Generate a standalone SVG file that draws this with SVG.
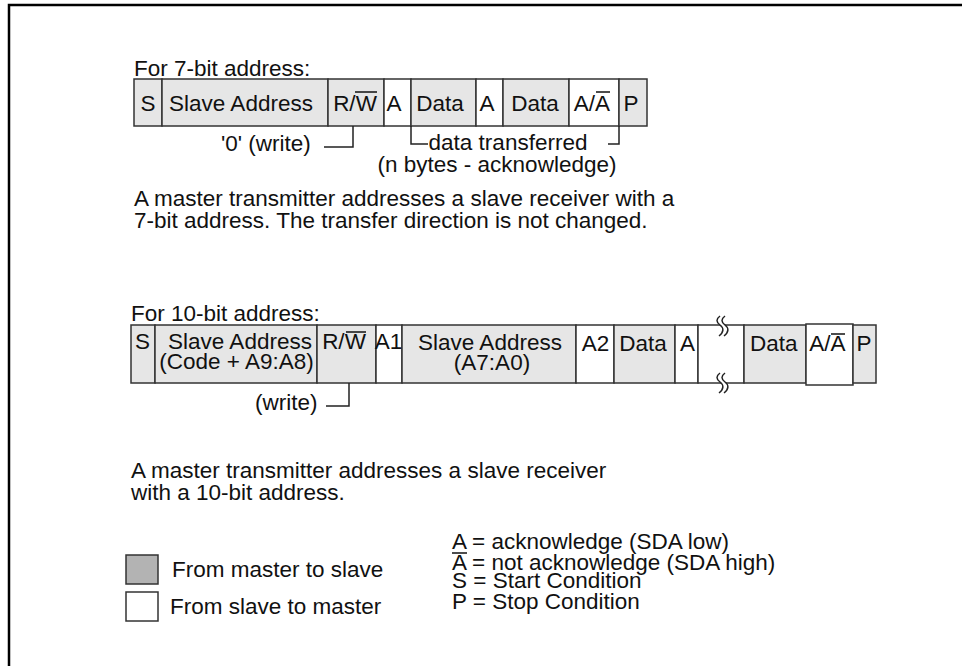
<svg xmlns="http://www.w3.org/2000/svg" width="962" height="666" viewBox="0 0 962 666">
<style>
text{font-family:"Liberation Sans",Arial,sans-serif;font-size:22.5px;fill:#111}
.m{text-anchor:middle}
.g{fill:#e6e6e6;stroke:#333;stroke-width:1.5}
.w{fill:#fff;stroke:#333;stroke-width:1.5}
.ln{fill:none;stroke:#222;stroke-width:1.5}
.ov{stroke:#111;stroke-width:1.5}
</style>
<rect x="9" y="5" width="1000" height="1000" fill="#fff" stroke="#000" stroke-width="2.5"/>

<text x="134" y="76">For 7-bit address:</text>
<g id="row7">
  <rect class="g" x="134" y="79" width="28" height="47"/>
  <rect class="g" x="162" y="79" width="166" height="47"/>
  <rect class="g" x="328" y="79" width="56" height="47"/>
  <rect class="w" x="384" y="79" width="27" height="47"/>
  <rect class="g" x="411" y="79" width="65" height="47"/>
  <rect class="w" x="476" y="79" width="27" height="47"/>
  <rect class="g" x="503" y="79" width="66" height="47"/>
  <rect class="w" x="569" y="79" width="50" height="47"/>
  <rect class="g" x="619" y="79" width="28" height="47"/>
  <text class="m" x="148" y="111">S</text>
  <text class="m" x="241" y="111">Slave Address</text>
  <text class="m" x="355" y="111">R/W</text>
  <line class="ov" x1="355" y1="92" x2="377" y2="92"/>
  <text class="m" x="394" y="111">A</text>
  <text class="m" x="440" y="111">Data</text>
  <text class="m" x="487" y="111">A</text>
  <text class="m" x="535" y="111">Data</text>
  <text class="m" x="592" y="111">A/A</text>
  <line class="ov" x1="596" y1="92" x2="610" y2="92"/>
  <text class="m" x="631" y="111">P</text>
</g>
<g id="connectors7">
  <polyline class="ln" points="324,147 353,147 353,126"/>
  <polyline class="ln" points="411,126 411,144 428,144"/>
  <polyline class="ln" points="608,144 619,144 619,126"/>
</g>
<text x="221" y="151">'0' (write)</text>
<text class="m" x="508" y="150">data transferred</text>
<text class="m" x="497" y="172">(n bytes - acknowledge)</text>
<text x="134" y="206">A master transmitter addresses a slave receiver with a</text>
<text x="134" y="228">7-bit address. The transfer direction is not changed.</text>

<text x="131" y="321">For 10-bit address:</text>
<g id="row10">
  <rect class="g" x="131" y="325" width="24" height="58"/>
  <rect class="g" x="155" y="325" width="162" height="58"/>
  <rect class="g" x="317" y="325" width="59" height="58"/>
  <rect class="w" x="376" y="325" width="26" height="58"/>
  <rect class="g" x="402" y="325" width="174" height="58"/>
  <rect class="w" x="576" y="325" width="38" height="58"/>
  <rect class="g" x="614" y="325" width="61" height="58"/>
  <rect class="w" x="675" y="325" width="23" height="58"/>
  <rect class="w" x="698" y="325" width="46" height="58"/>
  <rect class="g" x="744" y="325" width="62" height="58"/>
  <rect class="w" x="806" y="324" width="47" height="61"/>
  <rect class="g" x="853" y="325" width="23" height="58"/>
  <text class="m" x="142.5" y="349">S</text>
  <text class="m" x="240" y="349">Slave Address</text>
  <text class="m" x="236.5" y="369">(Code + A9:A8)</text>
  <text class="m" x="344" y="349">R/W</text>
  <line class="ov" x1="346" y1="332" x2="366" y2="332"/>
  <text class="m" x="388.5" y="349">A1</text>
  <text class="m" x="490" y="350">Slave Address</text>
  <text class="m" x="492" y="370">(A7:A0)</text>
  <text class="m" x="595.5" y="351">A2</text>
  <text class="m" x="643" y="351">Data</text>
  <text class="m" x="687.5" y="351">A</text>
  <text class="m" x="773.7" y="351">Data</text>
  <text class="m" x="827.3" y="351">A/A</text>
  <line class="ov" x1="831" y1="334" x2="845" y2="334"/>
  <text class="m" x="864" y="351">P</text>
  <path d="M720,316 c-4,3 -4,6 0,9 c4,3 4,7 -1,11 l5,0 c5,-4 5,-8 1,-11 c-4,-3 -4,-6 0,-9 z" fill="#fff" stroke="none"/>
  <path d="M720,316 c-4,3 -4,6 0,9 c4,3 4,7 -1,11 M725,316 c-4,3 -4,6 0,9 c4,3 4,7 -1,11" class="ln"/>
  <path d="M720,373 c-4,3 -4,6 0,9 c4,3 4,7 -1,11 l5,0 c5,-4 5,-8 1,-11 c-4,-3 -4,-6 0,-9 z" fill="#fff" stroke="none"/>
  <path d="M720,373 c-4,3 -4,6 0,9 c4,3 4,7 -1,11 M725,373 c-4,3 -4,6 0,9 c4,3 4,7 -1,11" class="ln"/>
</g>
<g id="connectors10">
  <polyline class="ln" points="326,406 349,406 349,383"/>
</g>
<text x="255" y="410">(write)</text>
<text x="131" y="478">A master transmitter addresses a slave receiver</text>
<text x="131" y="500">with a 10-bit address.</text>

<g id="legend">
  <rect x="126" y="555" width="32" height="29" fill="#b3b3b3" stroke="#333" stroke-width="1.5"/>
  <rect x="126" y="592" width="32" height="29" fill="#fff" stroke="#333" stroke-width="1.5"/>
  <text x="172" y="577">From master to slave</text>
  <text x="170" y="614">From slave to master</text>
  <text x="452" y="549">A = acknowledge (SDA low)</text>
  <text x="452" y="570">A = not acknowledge (SDA high)</text>
  <line class="ov" x1="452" y1="553" x2="467" y2="553"/>
  <text x="452" y="588">S = Start Condition</text>
  <text x="452" y="609">P = Stop Condition</text>
</g>
</svg>
